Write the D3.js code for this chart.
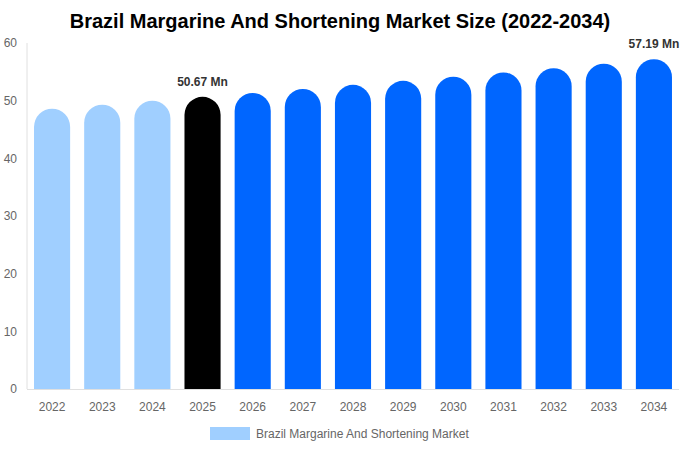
<!DOCTYPE html>
<html>
<head>
<meta charset="utf-8">
<script src="https://cdn.jsdelivr.net/npm/d3@7"></script>
<style>
  body { margin: 0; background: #fff; }
  svg { font-family: "Liberation Sans", Arial, sans-serif; }
</style>
</head>
<body>
<div class="canvas"></div>
<script>
// chart data
const years = ['2022', '2023', '2024', '2025', '2026', '2027', '2028', '2029', '2030', '2031', '2032', '2033', '2034'];
const sizes = [48.6, 49.3, 50.0, 50.67, 51.35, 52.04, 52.74, 53.45, 54.17, 54.9, 55.64, 56.41, 57.19];
const yTicks = [0, 10, 20, 30, 40, 50, 60];
const labelled = { '2025': '50.67 Mn', '2034': '57.19 Mn' };
const seriesName = 'Brazil Margarine And Shortening Market';

const dims = { width: 680, height: 450 };
const margin = { top: 43, right: 1, bottom: 61, left: 27 };

const svg = d3.select('.canvas')
    .append('svg')
    .attr('width', dims.width)
    .attr('height', dims.height);

const x = d3.scaleBand()
    .domain(years)
    .range([margin.left, dims.width - margin.right])
    .paddingInner(0.28)
    .paddingOuter(0.14);

const y = d3.scaleLinear()
    .domain([0, 60])
    .range([dims.height - margin.bottom, margin.top]);

// bar colour: past light, current black, forecast blue
const colour = yr => yr < '2025' ? '#a0cfff' : (yr === '2025' ? '#000000' : '#0066ff');

// title
svg.append('text')
    .attr('x', dims.width / 2)
    .attr('y', 28)
    .attr('text-anchor', 'middle')
    .style('font-size', '20px')
    .style('font-weight', 'bold')
    .attr('fill', '#000')
    .text('Brazil Margarine And Shortening Market Size (2022-2034)');

// axes lines
svg.append('line')
    .attr('x1', margin.left).attr('x2', margin.left)
    .attr('y1', y(60)).attr('y2', y(0))
    .attr('stroke', '#e0e0e0');

svg.append('line')
    .attr('x1', margin.left).attr('x2', dims.width - margin.right)
    .attr('y1', y(0) + 0.5).attr('y2', y(0) + 0.5)
    .attr('stroke', '#e0e0e0');

// y tick labels
svg.selectAll('text.ytick')
    .data(yTicks)
    .enter()
    .append('text')
    .attr('class', 'ytick')
    .attr('x', 17)
    .attr('y', d => y(d))
    .attr('dy', '0.35em')
    .attr('text-anchor', 'end')
    .style('font-size', '12px')
    .attr('fill', '#666')
    .text(d => d);

// x tick labels
svg.selectAll('text.xtick')
    .data(years)
    .enter()
    .append('text')
    .attr('class', 'xtick')
    .attr('x', d => x(d) + x.bandwidth() / 2)
    .attr('y', y(0) + 22)
    .attr('text-anchor', 'middle')
    .style('font-size', '12px')
    .attr('fill', '#666')
    .text(d => d);

// bars with fully rounded tops
const barPath = (yr, v) => {
    const x0 = x(yr), w = x.bandwidth(), r = w / 2;
    const top = y(v), bottom = y(0);
    return `M${x0},${bottom} L${x0},${top + r} A${r},${r} 0 0 1 ${x0 + w},${top + r} L${x0 + w},${bottom} Z`;
};

svg.selectAll('path.bar')
    .data(years.map((yr, i) => ({ yr, v: sizes[i] })))
    .enter()
    .append('path')
    .attr('class', 'bar')
    .attr('d', d => barPath(d.yr, d.v))
    .attr('fill', d => colour(d.yr));

// value labels
svg.selectAll('text.val')
    .data(years.map((yr, i) => ({ yr, v: sizes[i] })).filter(d => labelled[d.yr]))
    .enter()
    .append('text')
    .attr('class', 'val')
    .attr('x', d => x(d.yr) + x.bandwidth() / 2)
    .attr('y', d => y(d.v) - 11)
    .attr('text-anchor', 'middle')
    .style('font-size', '12px')
    .style('font-weight', 'bold')
    .attr('fill', '#333')
    .text(d => labelled[d.yr]);

// legend
svg.append('rect')
    .attr('x', 210).attr('y', 427)
    .attr('width', 40).attr('height', 13)
    .attr('fill', '#a0cfff');

svg.append('text')
    .attr('x', 256).attr('y', 437.5)
    .style('font-size', '12px')
    .attr('fill', '#666')
    .text(seriesName);
</script>
</body>
</html>
